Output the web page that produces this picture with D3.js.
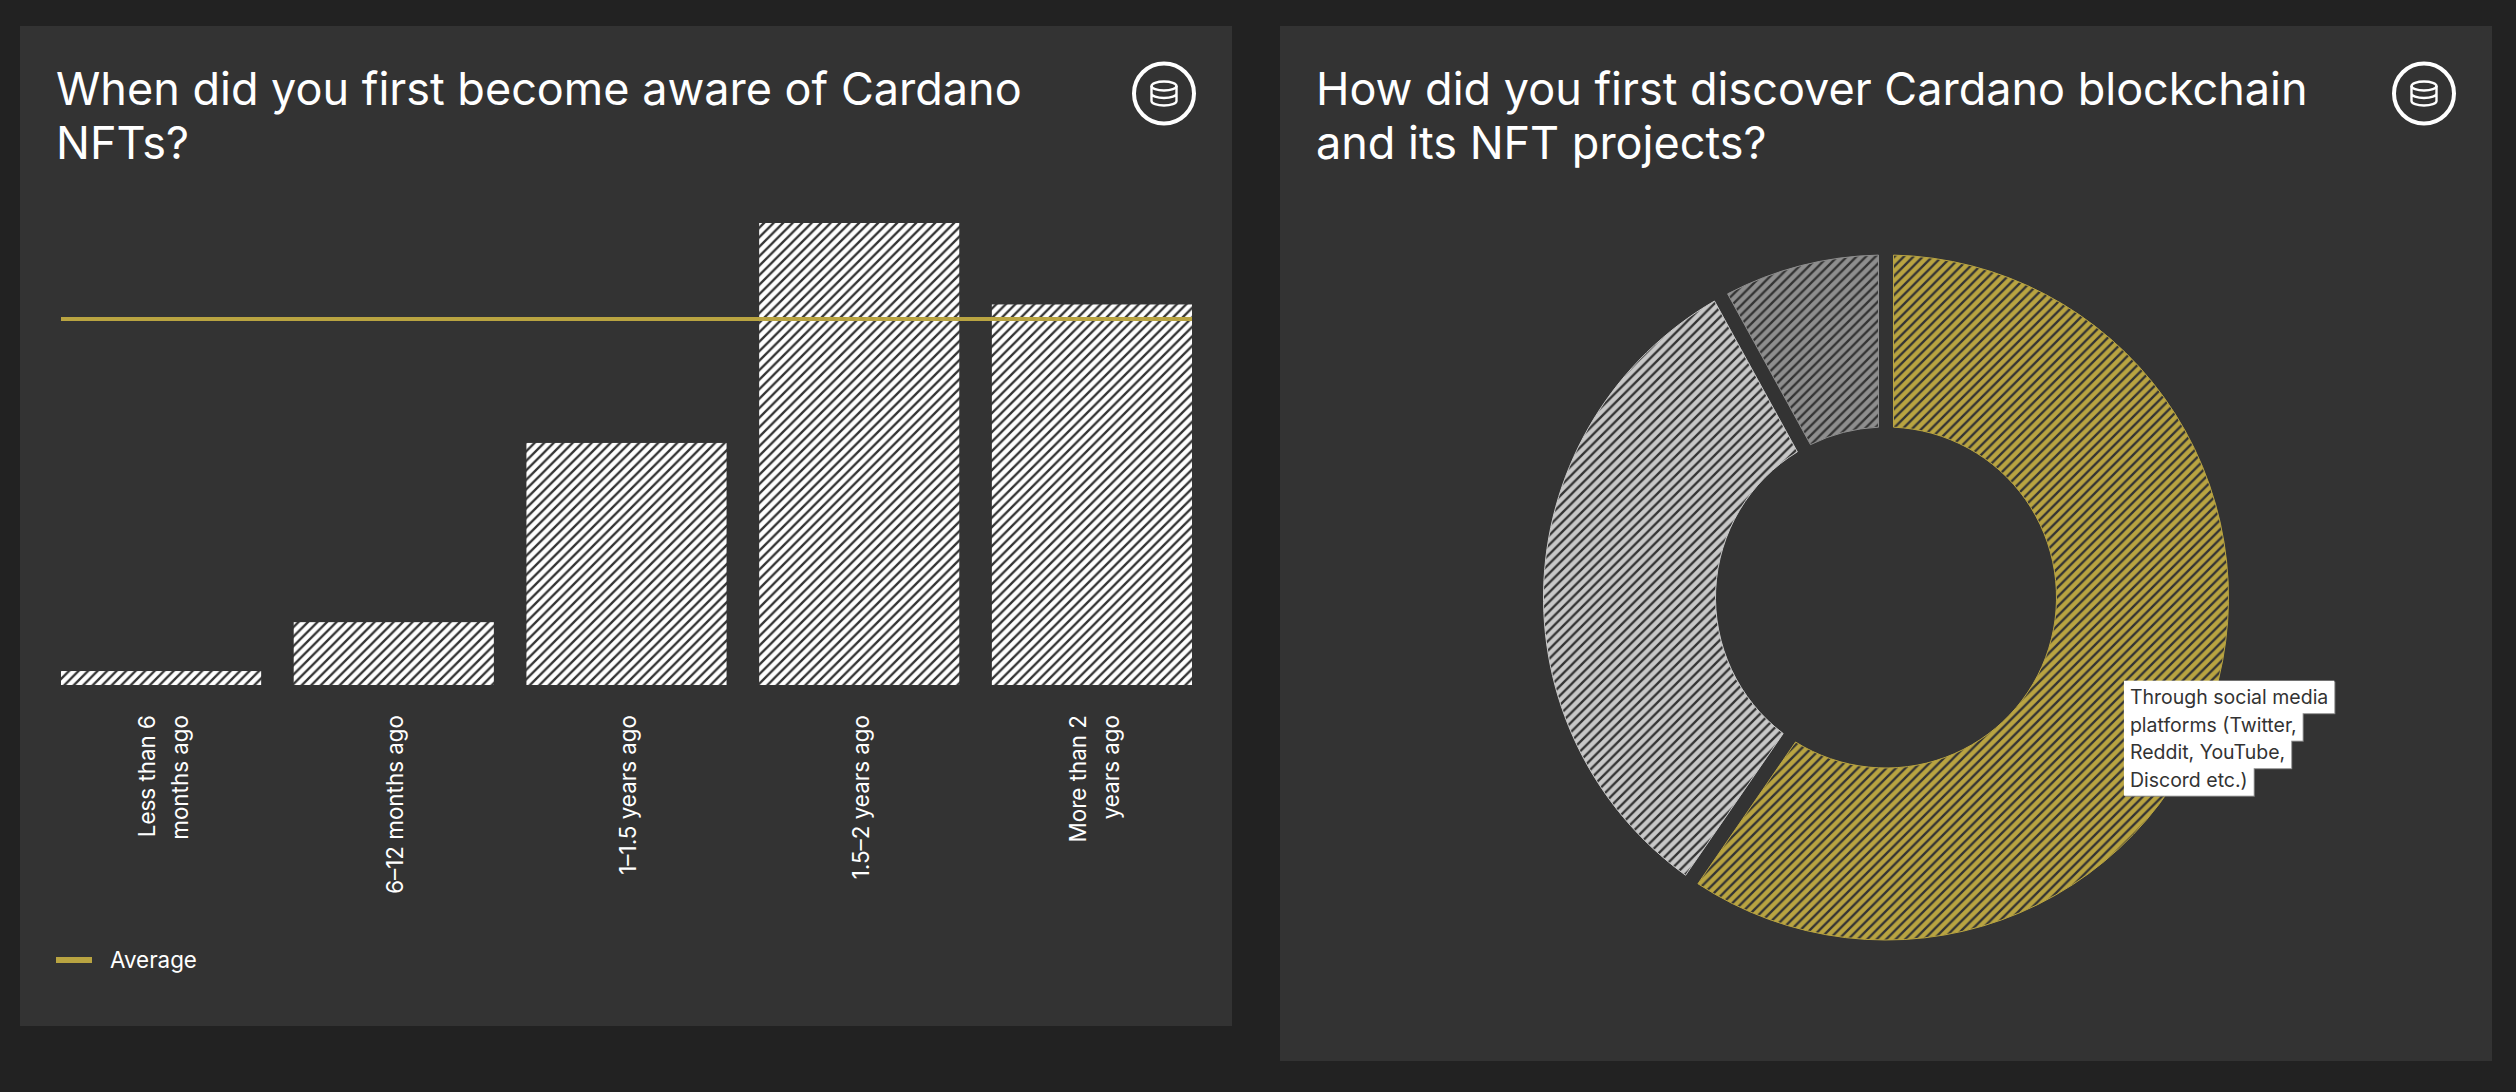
<!DOCTYPE html>
<html>
<head>
<meta charset="utf-8">
<script src="https://cdnjs.cloudflare.com/ajax/libs/d3/7.8.5/d3.min.js"></script>
<style>
    html, body { margin: 0; padding: 0; background: #222; overflow: hidden; }
    text { font-family: Inter, sans-serif; }
</style>
</head>
<body>
<div id="chart"></div>
<script>
// bar chart data
const barCategories = ["Less than 6 months ago", "6–12 months ago", "1–1.5 years ago", "1.5–2 years ago", "More than 2 years ago"];
const barTickLines = [["Less than 6", "months ago"], ["6–12 months ago"], ["1–1.5 years ago"], ["1.5–2 years ago"], ["More than 2", "years ago"]];
const barValues = [1.2, 5.4, 20.8, 39.7, 32.7];
const averageValue = 31.45;
const barTitle = ["When did you first become aware of Cardano", "NFTs?"];

// donut data
const donutCategories = ["Through social media platforms (Twitter, Reddit, YouTube, Discord etc.)", "Other channels", "Other"];
const donutValues = [59.6, 32.4, 8.0];
const donutColors = ["#b9a441", "#c8c8c8", "#8e8e8e"];
const donutTitle = ["How did you first discover Cardano blockchain", "and its NFT projects?"];
const tooltipLines = ["Through social media", "platforms (Twitter,", "Reddit, YouTube,", "Discord etc.)"];

const svg = d3.select("#chart").append("svg")
    .attr("width", 2516)
    .attr("height", 1092)
    .style("display", "block");

svg.append("rect").attr("width", 2516).attr("height", 1092).attr("fill", "#222");

// striped fills
const defs = svg.append("defs");
function addPattern(id, color) {
    let p = defs.append("pattern")
        .attr("id", id)
        .attr("patternUnits", "userSpaceOnUse")
        .attr("width", 9.5)
        .attr("height", 9.5);
    p.append("rect").attr("width", 9.5).attr("height", 9.5).attr("fill", color);
    p.append("path")
        .attr("d", "M 0 9.5 L 9.5 0 M -1 1 L 1 -1 M 8.5 10.5 L 10.5 8.5")
        .attr("stroke", "#333")
        .attr("stroke-width", 2.3);
}
addPattern("stripe-white", "#fff");
donutColors.forEach((c, i) => addPattern("stripe-" + i, c));

function drawPanel(x, y, w, h, title) {
    let g = svg.append("g").attr("transform", `translate(${x}, ${y})`);
    g.append("rect").attr("width", w).attr("height", h).attr("fill", "#333");

    g.selectAll(".title")
        .data(title)
        .enter().append("text")
        .attr("class", "title")
        .attr("x", 36)
        .attr("y", (d, i) => 79 + i * 53.5)
        .attr("fill", "#fff")
        .attr("font-size", 45)
        .text(d => d);

    // database icon
    let icon = g.append("g")
        .attr("transform", `translate(${w - 68}, 67.5)`)
        .attr("fill", "none")
        .attr("stroke", "#fff");
    icon.append("circle").attr("r", 30).attr("stroke-width", 4);
    icon.append("ellipse").attr("cy", -7.5).attr("rx", 12.5).attr("ry", 4.5).attr("stroke-width", 2.4);
    icon.append("path")
        .attr("stroke-width", 2.4)
        .attr("d", "M -12.5 -7.5 V 7.5 A 12.5 4.5 0 0 0 12.5 7.5 V -7.5 M -12.5 0 A 12.5 4.5 0 0 0 12.5 0");
    return g;
}

/* bar chart */
const barPanel = drawPanel(20, 26, 1212, 1000, barTitle);
const barG = barPanel.append("g").attr("transform", "translate(41, 197)");
const plotW = 1131, plotH = 462;

const x = d3.scaleBand()
    .domain(barCategories)
    .range([0, plotW])
    .paddingInner(0.14)
    .paddingOuter(0);

const y = d3.scaleLinear()
    .domain([0, d3.max(barValues)])
    .range([plotH, 0]);

barG.selectAll(".bar")
    .data(barCategories)
    .enter().append("rect")
    .attr("class", "bar")
    .attr("x", d => x(d))
    .attr("y", (d, i) => y(barValues[i]))
    .attr("width", x.bandwidth())
    .attr("height", (d, i) => plotH - y(barValues[i]))
    .attr("fill", "url(#stripe-white)");

barG.append("line")
    .attr("x1", 0)
    .attr("x2", plotW)
    .attr("y1", y(averageValue))
    .attr("y2", y(averageValue))
    .attr("stroke", "#b9a441")
    .attr("stroke-width", 4);

// category labels, rotated and ending just under the plot
const xAxis = barG.append("g")
    .attr("transform", `translate(0, ${plotH})`)
    .call(d3.axisBottom(x).tickSize(0));
xAxis.select(".domain").remove();
xAxis.selectAll(".tick text").each(function(d, i) {
    let lines = barTickLines[i];
    let t = d3.select(this)
        .text(null)
        .attr("transform", `translate(${lines.length > 1 ? -6 : 9.5}, 30) rotate(-90)`)
        .attr("text-anchor", "end")
        .attr("fill", "#fff")
        .attr("font-family", "Inter, sans-serif")
        .attr("font-size", 22.4)
        .attr("x", 0)
        .attr("y", 0)
        .attr("dy", 0);
    lines.forEach((l, j) => {
        t.append("tspan").attr("x", 0).attr("y", j * 33).text(l);
    });
});

// legend
const legend = barPanel.append("g").attr("transform", "translate(36, 934)");
legend.append("rect").attr("y", -3).attr("width", 36).attr("height", 6).attr("fill", "#b9a441");
legend.append("text")
    .attr("x", 54)
    .attr("y", 8)
    .attr("fill", "#fff")
    .attr("font-size", 22.4)
    .text("Average");

/* donut chart */
const donutPanel = drawPanel(1280, 26, 1212, 1035, donutTitle);
const donutG = donutPanel.append("g").attr("transform", "translate(606, 571.5)");

// gaps go on the arc, so the pie keeps the slice boundaries at their true angles
const pie = d3.pie().sort(null);
const arc = d3.arc().innerRadius(170.5).outerRadius(342.5)
    .padAngle(15 / Math.sqrt(342.5 * 342.5 + 170.5 * 170.5));
const arcs = pie(donutValues);

donutG.selectAll(".slice")
    .data(arcs)
    .enter().append("path")
    .attr("class", "slice")
    .attr("d", arc)
    .attr("fill", (d, i) => `url(#stripe-${i})`)
    .attr("stroke", (d, i) => donutColors[i])
    .attr("stroke-width", 1);

// data label sits on the slice centroid, one highlighted box per line
const [cx, cy] = arc.centroid(arcs[0]);
const label = donutG.append("g").attr("transform", `translate(${cx - 7}, ${cy + 7})`);
const labelText = label.selectAll("text")
    .data(tooltipLines)
    .enter().append("text")
    .attr("x", 6)
    .attr("y", (d, i) => 23.5 + i * 27.5)
    .attr("fill", "#333")
    .attr("font-size", 19.5)
    .text(d => d);

const widths = [];
labelText.each(function() { widths.push(this.getComputedTextLength()); });

label.selectAll(".edge")
    .data(tooltipLines)
    .enter().insert("rect", "text")
    .attr("class", "edge")
    .attr("y", (d, i) => i * 27.5 + 1)
    .attr("x", 1)
    .attr("width", (d, i) => widths[i] + 12)
    .attr("height", 32.5)
    .attr("fill", "#8a8a8a");
label.selectAll(".box")
    .data(tooltipLines)
    .enter().insert("rect", "text")
    .attr("class", "box")
    .attr("y", (d, i) => i * 27.5)
    .attr("width", (d, i) => widths[i] + 12)
    .attr("height", 32.5)
    .attr("fill", "#fff");
</script>
</body>
</html>
